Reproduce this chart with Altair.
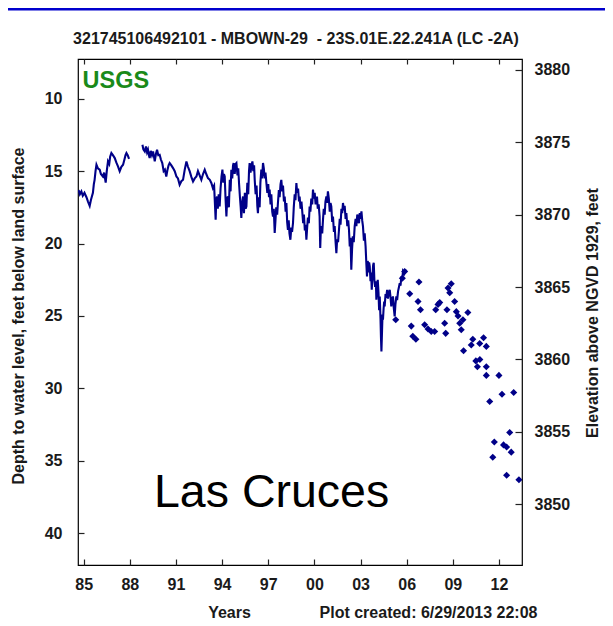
import altair as alt
import pandas as pd

FONT = "Liberation Sans"
NAVY = "#000088"

TITLE = "321745106492101 - MBOWN-29\u00a0 - 23S.01E.22.241A (LC -2A)"
LEFT_TITLE = "Depth to water level, feet below land surface"
RIGHT_TITLE = "Elevation above NGVD 1929, feet"
X_TITLE = "Years"
CREATED = "Plot created: 6/29/2013 22:08"
AGENCY = "USGS"
PLACE = "Las Cruces"
LAND_SURFACE = 3888

# continuous record, segment 1 (1985-1988)
SEG1_YEAR = [1984.67, 1984.75, 1984.85, 1984.94, 1985.05, 1985.18, 1985.28, 1985.39,
             1985.47, 1985.6, 1985.66, 1985.71, 1985.77, 1985.83, 1985.92, 1986.04,
             1986.12, 1986.25, 1986.33, 1986.43, 1986.5, 1986.58, 1986.66, 1986.72,
             1986.8, 1986.9, 1987.02, 1987.12, 1987.23, 1987.34, 1987.45, 1987.56,
             1987.65, 1987.72, 1987.78, 1987.86, 1987.95]
SEG1_DEPTH = [16.3, 16.6, 16.4, 16.7, 16.5, 16.8, 17.1, 17.4,
              17.0, 16.5, 15.9, 15.6, 15.0, 14.56, 14.8, 14.9,
              15.2, 15.37, 15.1, 15.8, 15.0, 14.33, 14.5, 14.0,
              13.75, 13.9, 14.1, 14.4, 14.67, 15.0, 14.7, 14.56,
              14.2, 13.9, 13.75, 13.9, 14.16]

# continuous record, segment 2 (1988-2006)
SEG2_YEAR = [
    1988.82, 1988.88, 1988.97, 1989.05, 1989.12, 1989.18, 1989.24, 1989.29, 1989.36, 1989.44,
    1989.51, 1989.57, 1989.62, 1989.7, 1989.77, 1989.85, 1989.94, 1990.02, 1990.11, 1990.2,
    1990.28, 1990.37, 1990.45, 1990.52, 1990.59, 1990.7, 1990.81, 1990.92, 1991.03, 1991.13,
    1991.24, 1991.35, 1991.46, 1991.57, 1991.68, 1991.78, 1991.89, 1992.0, 1992.11, 1992.22,
    1992.33, 1992.43, 1992.54, 1992.65, 1992.76, 1992.87, 1992.97, 1993.08, 1993.2, 1993.3,
    1993.4, 1993.48, 1993.54, 1993.58, 1993.62, 1993.67, 1993.72, 1993.78, 1993.84, 1993.9,
    1993.96, 1994.02, 1994.08, 1994.12, 1994.17, 1994.22, 1994.28, 1994.33, 1994.38, 1994.44,
    1994.5, 1994.55, 1994.6, 1994.66, 1994.71, 1994.75, 1994.82, 1994.88, 1994.93, 1995.0,
    1995.05, 1995.1, 1995.16, 1995.21, 1995.25, 1995.3, 1995.36, 1995.42, 1995.48, 1995.53,
    1995.58, 1995.64, 1995.7, 1995.75, 1995.79, 1995.85, 1995.91, 1995.97, 1996.03, 1996.08,
    1996.12, 1996.18, 1996.24, 1996.29, 1996.33, 1996.38, 1996.44, 1996.49, 1996.55, 1996.6,
    1996.66, 1996.71, 1996.77, 1996.82, 1996.88, 1996.94, 1997.0, 1997.05, 1997.09, 1997.15,
    1997.2, 1997.26, 1997.31, 1997.36, 1997.42, 1997.47, 1997.52, 1997.58, 1997.63, 1997.69,
    1997.74, 1997.8, 1997.85, 1997.91, 1997.96, 1998.02, 1998.07, 1998.13, 1998.18, 1998.23,
    1998.28, 1998.33, 1998.38, 1998.44, 1998.5, 1998.55, 1998.61, 1998.66, 1998.72, 1998.77,
    1998.83, 1998.88, 1998.94, 1999.0, 1999.04, 1999.1, 1999.16, 1999.22, 1999.27, 1999.32,
    1999.38, 1999.43, 1999.48, 1999.53, 1999.58, 1999.64, 1999.69, 1999.74, 1999.8, 1999.86,
    1999.91, 1999.96, 2000.02, 2000.08, 2000.13, 2000.17, 2000.22, 2000.28, 2000.34, 2000.36,
    2000.38, 2000.42, 2000.47, 2000.51, 2000.56, 2000.61, 2000.67, 2000.72, 2000.78, 2000.83,
    2000.88, 2000.94, 2001.0, 2001.05, 2001.1, 2001.16, 2001.21, 2001.27, 2001.32, 2001.38,
    2001.43, 2001.48, 2001.54, 2001.6, 2001.65, 2001.7, 2001.76, 2001.81, 2001.86, 2001.92,
    2001.97, 2002.03, 2002.08, 2002.14, 2002.2, 2002.25, 2002.3, 2002.35, 2002.4, 2002.45,
    2002.5, 2002.56, 2002.62, 2002.68, 2002.73, 2002.79, 2002.84, 2002.9, 2002.95, 2003.0,
    2003.06, 2003.11, 2003.16, 2003.22, 2003.27, 2003.33, 2003.38, 2003.42, 2003.47, 2003.52,
    2003.56, 2003.6, 2003.65, 2003.69, 2003.73, 2003.78, 2003.82, 2003.86, 2003.9, 2003.95,
    2004.0, 2004.03, 2004.08, 2004.12, 2004.17, 2004.21, 2004.25, 2004.3, 2004.33, 2004.36,
    2004.4, 2004.43, 2004.46, 2004.5, 2004.54, 2004.57, 2004.62, 2004.68, 2004.73, 2004.78,
    2004.84, 2004.9, 2004.95, 2005.0, 2005.05, 2005.11, 2005.16, 2005.22, 2005.27, 2005.33,
    2005.38, 2005.44, 2005.5, 2005.55, 2005.6, 2005.66, 2005.71, 2005.76, 2005.84, 2005.92,
    2005.98]
SEG2_DEPTH = [
    13.18, 13.5, 13.64, 13.3, 13.7, 13.52, 13.9, 14.1, 13.6, 13.9,
    13.64, 14.0, 14.33, 13.8, 13.52, 13.9, 13.87, 14.2, 14.44, 15.0,
    14.9, 15.37, 14.9, 14.6, 14.44, 14.6, 14.79, 15.0, 15.37, 15.5,
    15.94, 15.7, 15.6, 14.9, 14.33, 14.7, 15.0, 15.4, 15.71, 15.5,
    15.37, 15.0, 15.3, 15.6, 15.2, 14.9, 15.2, 15.48, 15.6, 15.82,
    16.17, 16.0, 17.4, 18.36, 17.0, 16.75, 17.6, 16.6, 17.44, 16.2,
    15.4, 14.9, 15.8, 15.2, 15.37, 16.8, 18.13, 16.9, 16.75, 17.5,
    15.6, 16.4, 14.9, 15.5, 14.6, 14.44, 15.2, 14.5, 14.44, 15.3,
    14.8, 15.82, 16.8, 17.5, 18.24, 17.2, 16.75, 17.9, 16.5, 17.6,
    17.44, 15.8, 16.6, 15.0, 14.44, 15.1, 14.6, 14.33, 15.0, 14.6,
    15.6, 16.6, 16.0, 17.4, 17.9, 16.8, 17.5, 15.8, 14.9, 15.5,
    14.44, 14.8, 15.5, 15.1, 15.82, 16.5, 15.9, 16.8, 16.28, 17.3,
    16.6, 17.8, 18.13, 17.6, 19.27, 18.4, 17.5, 18.0, 17.2, 16.3,
    16.8, 15.9, 15.6, 16.4, 16.0, 17.1, 16.75, 17.8, 17.2, 18.5,
    19.05, 18.4, 19.3, 19.74, 18.9, 19.2, 18.58, 17.5, 16.6, 17.0,
    15.82, 16.5, 16.2, 17.1, 16.75, 17.6, 17.1, 17.9, 18.6, 18.0,
    19.1, 18.7, 19.74, 18.9, 18.2, 18.6, 17.44, 17.8, 16.9, 17.3,
    16.28, 16.9, 16.5, 17.3, 16.9, 16.75, 17.6, 17.3, 18.13, 19.2,
    20.31, 19.0, 18.8, 19.3, 18.36, 17.6, 18.0, 17.1, 16.75, 17.2,
    16.4, 16.9, 17.8, 17.2, 17.44, 18.5, 18.13, 19.2, 18.8, 19.9,
    20.66, 19.7, 19.9, 19.05, 18.3, 18.7, 17.6, 17.9, 17.2, 17.7,
    17.4, 18.3, 17.9, 18.8, 18.4, 19.05, 20.2, 19.6, 21.8, 20.4,
    19.5, 19.9, 18.82, 18.3, 18.8, 18.0, 18.13, 18.6, 17.9, 18.3,
    17.78, 18.4, 18.82, 19.8, 19.3, 20.2, 21.4, 22.27, 21.2, 22.0,
    21.3, 21.58, 22.6, 22.0, 23.19, 22.2, 21.5, 21.33, 22.5, 23.0,
    22.6, 23.88, 23.0, 22.5, 23.4, 24.6, 23.65, 25.2, 26.5, 27.45,
    26.0, 24.9, 25.26, 24.5, 24.0, 24.34, 23.6, 23.65, 23.2, 23.8,
    23.4, 23.19, 23.7, 24.34, 23.9, 23.65, 24.4, 25.03, 24.2, 23.65,
    23.9, 23.3, 23.0, 22.73, 22.9, 22.27, 22.5, 21.93, 22.1, 21.9,
    21.8]

# discrete measurements (diamonds)
PT_YEAR = [2005.29, 2005.87, 2005.72, 2006.2, 2006.8, 2006.74, 2006.9, 2006.3,
           2006.4, 2006.6, 2007.17, 2007.39, 2007.6, 2007.82, 2007.89, 2008.04,
           2008.15, 2008.47, 2008.54, 2008.62, 2008.69, 2008.8, 2008.9, 2009.12,
           2009.23, 2009.34, 2009.45, 2009.55, 2009.66, 2009.98, 2009.7, 2010.2,
           2010.3, 2010.75, 2011.0, 2011.18, 2010.5, 2010.6, 2010.76, 2011.18,
           2011.18, 2012.0, 2011.4, 2012.2, 2012.96, 2011.7, 2011.6, 2012.3,
           2012.5, 2012.7, 2012.8, 2012.5, 2013.3]
PT_DEPTH = [25.26, 21.93, 22.4, 23.47, 22.66, 24.0, 24.57, 25.7,
            26.4, 26.6, 25.6, 25.9, 26.07, 26.07, 24.57, 24.2,
            24.07, 25.5, 26.2, 24.57, 23.07, 23.4, 22.78, 24.0,
            24.7, 25.0, 25.5, 25.95, 25.26, 24.76, 27.4, 27.0,
            26.6, 26.9, 26.5, 27.1, 28.1, 28.5, 28.0, 28.5,
            29.1, 29.1, 30.9, 30.4, 30.28, 33.7, 34.75, 33.9,
            34.05, 33.04, 34.4, 36.0, 36.3]

X_TICKS = [1985, 1988, 1991, 1994, 1997, 2000, 2003, 2006, 2009, 2012]
DEPTH_TICKS = [10, 15, 20, 25, 30, 35, 40]
ELEV_TICKS = [3850, 3855, 3860, 3865, 3870, 3875, 3880]
X_DOMAIN = [1984.63, 2013.5]
DEPTH_DOMAIN = [7.26, 42.19]
ELEV_DOMAIN = [LAND_SURFACE - DEPTH_DOMAIN[1], LAND_SURFACE - DEPTH_DOMAIN[0]]

W, H = 444, 506

line_df = pd.DataFrame({
    "year": SEG1_YEAR + SEG2_YEAR,
    "depth": SEG1_DEPTH + SEG2_DEPTH,
    "seg": ["a"] * len(SEG1_YEAR) + ["b"] * len(SEG2_YEAR),
})
pt_df = pd.DataFrame({"year": PT_YEAR, "depth": PT_DEPTH})

lab = dict(labelFont=FONT, labelFontSize=16, labelFontWeight="bold", labelColor="#1a1a1a",
           tickColor="#222222", tickWidth=1.2, domain=False, grid=False, title=None)

x_bottom = alt.Axis(values=X_TICKS, labelExpr="format(datum.value % 100, '02d')",
                    orient="bottom", offset=-6, tickSize=6, labelPadding=11, **lab)
y_left = alt.Axis(values=DEPTH_TICKS, orient="left", offset=-6, tickSize=6,
                  labelPadding=16, **lab)
x_top = alt.Axis(values=X_TICKS, orient="top", offset=-5, tickSize=5, labels=False, **lab)
y_right = alt.Axis(values=ELEV_TICKS, orient="right", offset=-7, tickSize=7, format="d",
                   labelPadding=12, labelAlign="left", **lab)

xs = alt.Scale(domain=X_DOMAIN, nice=False, zero=False)
ys = alt.Scale(domain=DEPTH_DOMAIN, reverse=True, nice=False, zero=False)

line = alt.Chart(line_df).mark_line(color=NAVY, strokeWidth=2.1, clip=True).encode(
    x=alt.X("year:Q", scale=xs, axis=x_bottom),
    y=alt.Y("depth:Q", scale=ys, axis=y_left),
    detail="seg:N",
)

points = alt.Chart(pt_df).mark_point(shape="diamond", filled=True, size=50, color=NAVY,
                                     opacity=1, clip=True).encode(
    x=alt.X("year:Q", scale=xs, axis=None),
    y=alt.Y("depth:Q", scale=ys, axis=None),
)

axes2 = alt.Chart(pt_df).transform_calculate(
    elev=f"{LAND_SURFACE} - datum.depth"
).mark_point(opacity=0).encode(
    x=alt.X("year:Q", scale=xs, axis=x_top),
    y=alt.Y("elev:Q", scale=alt.Scale(domain=ELEV_DOMAIN, nice=False, zero=False), axis=y_right),
)


def label(text, x, y, size=16, weight="bold", color="#1a1a1a", align="center",
          baseline="middle", angle=0):
    return alt.Chart(pd.DataFrame({"t": [text]})).mark_text(
        font=FONT, fontSize=size, fontWeight=weight, color=color, align=align,
        baseline=baseline, angle=angle,
    ).encode(x=alt.value(x), y=alt.value(y), text="t:N")


band = alt.Chart(pd.DataFrame({"t": [0]})).mark_rect(color="#0000CD").encode(
    x=alt.value(-72), x2=alt.value(530), y=alt.value(-53), y2=alt.value(-48.5)
)

texts = [
    label(TITLE, 218, -20),
    label(LEFT_TITLE, -59, 257, angle=270),
    label(RIGHT_TITLE, 515, 254, angle=270),
    label(X_TITLE, 151.5, 554),
    label(CREATED, 350.5, 554),
    label(AGENCY, 4.5, 22, size=23.5, color="#1a8a1a", align="left"),
    label(PLACE, 76, 448, size=46.5, weight="normal", color="black", align="left",
          baseline="alphabetic"),
]

chart = alt.layer(band, line, points, axes2, *texts).resolve_scale(
    x="independent", y="independent"
).properties(
    width=W, height=H,
    autosize=alt.AutoSizeParams(type="none"),
    padding={"left": 70, "top": 51, "right": 83, "bottom": 55},
    background="white",
).configure_view(stroke="black", strokeWidth=1.2)

chart.save("out.html", embed_options={"renderer": "svg", "actions": False})
